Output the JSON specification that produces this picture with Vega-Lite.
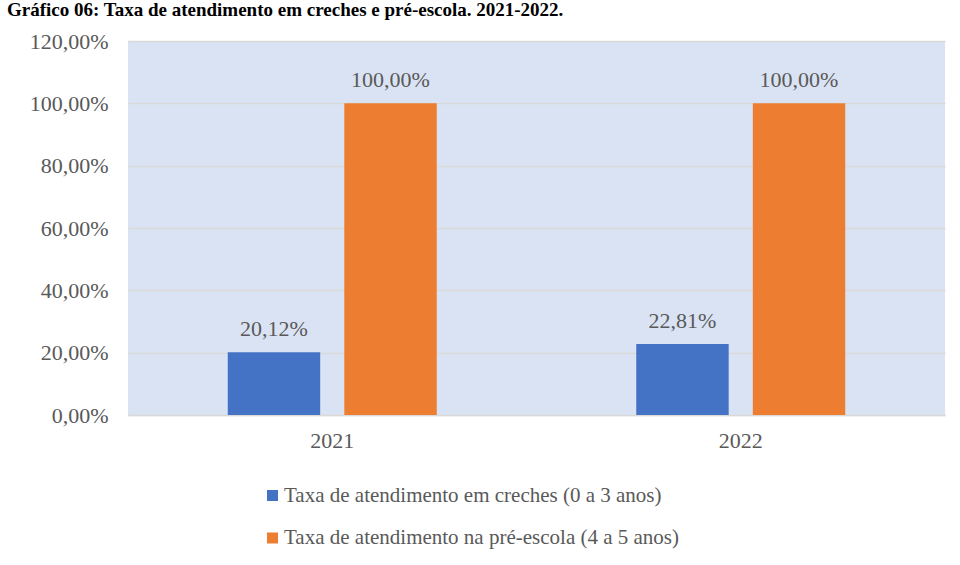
{
  "$schema": "https://vega.github.io/schema/vega-lite/v6.json",
  "autosize": "none",
  "width": 817,
  "height": 374,
  "padding": {"left": 128, "top": 41, "right": 15, "bottom": 150},
  "background": "white",
  "config": {
    "locale": {"number": {"decimal": ",", "thousands": ".", "grouping": [3], "currency": ["R$", ""]}},
    "view": {"fill": "#DAE3F3", "stroke": null},
    "font": "Liberation Serif",
    "axis": {"labelFont": "Liberation Serif"},
    "legend": {"labelFont": "Liberation Serif"},
    "text": {"font": "Liberation Serif"}
  },
  "title": {
    "text": "Gráfico 06: Taxa de atendimento em creches e pré-escola. 2021-2022.",
    "anchor": "start",
    "frame": "group",
    "font": "Liberation Serif",
    "fontSize": 19,
    "fontWeight": "bold",
    "color": "black",
    "baseline": "alphabetic",
    "dx": -121,
    "dy": 5,
    "offset": 0
  },
  "data": {
    "values": [
      {"ano": "2021", "serie": "Taxa de atendimento em creches (0 a 3 anos)", "taxa": 0.2012},
      {"ano": "2021", "serie": "Taxa de atendimento na pré-escola (4 a 5 anos)", "taxa": 1.0},
      {"ano": "2022", "serie": "Taxa de atendimento em creches (0 a 3 anos)", "taxa": 0.2281},
      {"ano": "2022", "serie": "Taxa de atendimento na pré-escola (4 a 5 anos)", "taxa": 1.0}
    ]
  },
  "encoding": {
    "x": {
      "field": "ano", "type": "nominal",
      "scale": {"paddingInner": 0.4884, "paddingOuter": 0.2442},
      "axis": {
        "title": null, "labelAngle": 0, "ticks": false,
        "domainColor": "#D9D9D9", "domainWidth": 1.5,
        "labelFont": "Liberation Serif", "labelFontSize": 22, "labelColor": "#595959",
        "labelPadding": 15
      }
    },
    "xOffset": {
      "field": "serie", "type": "nominal",
      "scale": {"paddingInner": 0.207, "paddingOuter": 0}
    },
    "y": {
      "field": "taxa", "type": "quantitative",
      "scale": {"domain": [0, 1.2]},
      "axis": {
        "title": null, "format": ".2%", "values": [0, 0.2, 0.4, 0.6, 0.8, 1.0, 1.2],
        "domain": false, "ticks": false,
        "gridColor": "#D9D9D9", "gridWidth": 1.5,
        "labelFont": "Liberation Serif", "labelFontSize": 22, "labelColor": "#595959",
        "labelPadding": 20
      }
    },
    "color": {
      "field": "serie", "type": "nominal",
      "scale": {"range": ["#4472C4", "#ED7D31"]},
      "legend": {
        "title": null, "orient": "none", "legendX": 134, "legendY": 444,
        "direction": "vertical",
        "symbolType": "square", "symbolSize": 121, "symbolStrokeWidth": 0,
        "labelFont": "Liberation Serif", "labelFontSize": 21, "labelColor": "#595959",
        "labelLimit": 700, "rowPadding": 20.5, "labelOffset": 1
      }
    }
  },
  "layer": [
    {"mark": {"type": "bar"}},
    {
      "mark": {"type": "text", "dy": -16, "baseline": "alphabetic", "font": "Liberation Serif", "fontSize": 22, "color": "#595959"},
      "encoding": {
        "text": {"field": "taxa", "type": "quantitative", "format": ".2%"},
        "color": {"value": "#595959"}
      }
    }
  ]
}
